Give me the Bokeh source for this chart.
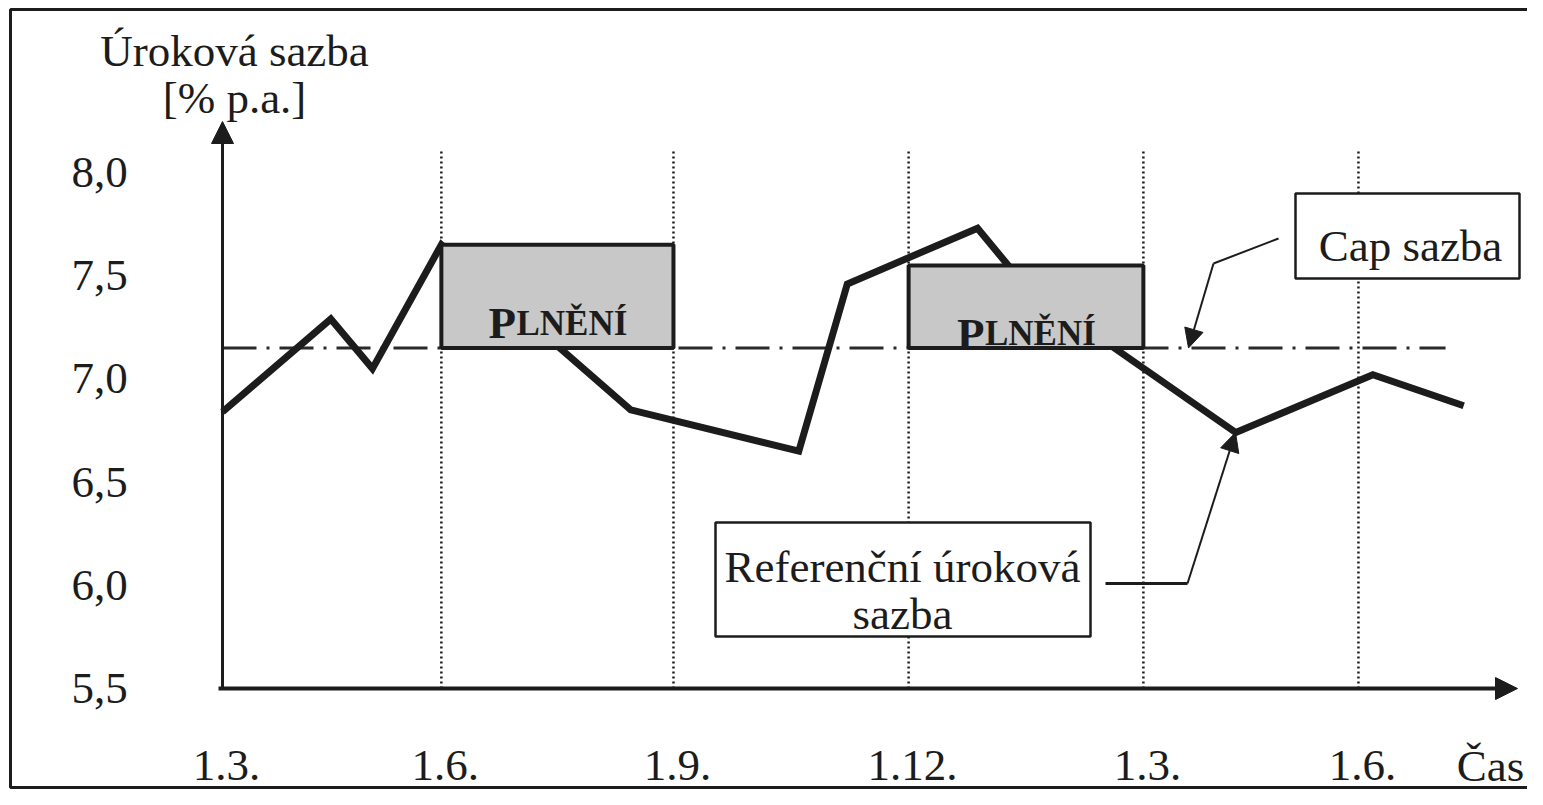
from bokeh.plotting import figure
from bokeh.models import Range1d, Arrow, NormalHead
from bokeh.core.properties import value
from bokeh.embed import file_html
from bokeh.resources import INLINE

# ---------------- data ----------------
# x in months from the first 1.3.
x_ticks = [0.0, 2.89, 5.955, 9.06, 12.16, 15.0]
x_tick_labels = ["1.3.", "1.6.", "1.9.", "1.12.", "1.3.", "1.6."]
y_ticks = [5.5, 6.0, 6.5, 7.0, 7.5, 8.0]
y_tick_labels = ["5,5", "6,0", "6,5", "7,0", "7,5", "8,0"]

ref_x = [0.0, 1.43, 1.98, 2.89, 5.39, 7.61, 8.25, 9.97, 10.6, 13.38, 15.19, 16.39]
ref_y = [6.84, 7.29, 7.05, 7.65, 6.85, 6.65, 7.46, 7.73, 7.45, 6.74, 7.02, 6.87]

cap_rate = 7.15
cap_x = [0.0, 16.15]

payout_start = [2.89, 9.06]
payout_end = [5.955, 12.16]
payout_top = [7.65, 7.55]

y_title = ["Úroková sazba", "[% p.a.]"]
x_title = "Čas"
cap_label = "Cap sazba"
ref_label = ["Referenční úroková", "sazba"]
payout_first, payout_rest = "P", "LNĚNÍ"

# ---------------- layout ----------------
W, H = 1527, 789
PXX, PXY = 75.73, 206.4          # pixels per month / per percentage point
AX_PX, AY_PX = 222, 688          # screen position of the axes origin
X0, X1 = -AX_PX / PXX, (W - AX_PX) / PXX
Y0, Y1 = 5.5 - (H - AY_PX) / PXY, 5.5 + AY_PX / PXY


def sx(px):
    return (px - AX_PX) / PXX


def sy(py):
    return 5.5 + (AY_PX - py) / PXY


FONT = value("Liberation Serif")
INK = "#1c1c1c"

p = figure(width=W, height=H, x_range=Range1d(X0, X1), y_range=Range1d(Y0, Y1),
           x_axis_location=None, y_axis_location=None, toolbar_location=None,
           output_backend="svg", min_border=0)
p.grid.visible = False
p.outline_line_color = None
p.background_fill_color = "white"
p.border_fill_color = "white"

# outer frame (right edge lies beyond the canvas)
p.line([sx(1530), sx(10), sx(10), sx(1530)], [sy(9), sy(9), sy(787), sy(787)],
       line_color=INK, line_width=3)

# vertical dotted guide lines
g = x_ticks[1:]
p.segment(x0=g, y0=[y_ticks[0]] * len(g), x1=g, y1=[sy(148)] * len(g),
          line_color=INK, line_width=2.5, line_dash="2 3")

# cap rate line
p.line(cap_x, [cap_rate, cap_rate], line_color="#2a2a2a", line_width=3,
       line_dash="34 10 3 10")

# reference rate
p.line(ref_x, ref_y, line_color=INK, line_width=7, line_join="miter")

# payout boxes
p.quad(left=payout_start, right=payout_end, bottom=[cap_rate] * 2, top=payout_top,
       fill_color="#c8c8c8", line_color=INK, line_width=4)
cx = [(a + b) / 2 for a, b in zip(payout_start, payout_end)]
by = [(cap_rate + t) / 2 - 27 / PXY for t in payout_top]
p.text(x=cx, y=by, text=[payout_first] * 2, text_font=FONT, text_font_size=value("45px"),
       text_font_style="bold", text_align="left", text_baseline="alphabetic",
       x_offset=-69, text_color=INK)
p.text(x=cx, y=by, text=[payout_rest] * 2, text_font=FONT, text_font_size=value("35px"),
       text_font_style="bold", text_align="left", text_baseline="alphabetic",
       x_offset=-41, text_color=INK)

# annotation boxes
p.quad(left=[sx(715)], right=[sx(1090)], bottom=[sy(636)], top=[sy(522)],
       fill_color="white", line_color=INK, line_width=2.5)
p.quad(left=[sx(1295)], right=[sx(1519)], bottom=[sy(278)], top=[sy(193)],
       fill_color="white", line_color=INK, line_width=2.5)

TXT = dict(text_font=FONT, text_font_size=value("45px"), text_color=INK,
           text_align="center", text_baseline="middle")
p.text(x=[sx(1410)], y=[sy(245)], text=[cap_label], **TXT)
p.text(x=[sx(902)] * 2, y=[sy(566), sy(613)], text=ref_label, **TXT)
p.text(x=[sx(234)] * 2, y=[sy(50), sy(97)], text=y_title, **TXT)

# tick labels
p.text(x=[0.0] * len(y_ticks), y=y_ticks, text=y_tick_labels, x_offset=-123, **TXT)
lab_y = sy(765)
p.text(x=x_ticks, y=[lab_y] * len(x_ticks), text=x_tick_labels, x_offset=4, **TXT)
p.text(x=[sx(1490)], y=[lab_y], text=[x_title], **TXT)

# callout arrows
p.line([sx(1278), sx(1213)], [sy(238), sy(263)], line_color=INK, line_width=2)
p.add_layout(Arrow(end=NormalHead(size=19, fill_color=INK, line_color=INK),
                   x_start=sx(1213), y_start=sy(263), x_end=sx(1188), y_end=cap_rate,
                   line_color=INK, line_width=2))
p.line([sx(1105), sx(1187)], [sy(583), sy(583)], line_color=INK, line_width=3)
p.add_layout(Arrow(end=NormalHead(size=19, fill_color=INK, line_color=INK),
                   x_start=sx(1187), y_start=sy(583), x_end=sx(1235), y_end=ref_y[9],
                   line_color=INK, line_width=2))

# axes as arrows
p.add_layout(Arrow(end=NormalHead(size=22, fill_color=INK, line_color=INK),
                   x_start=0.0, y_start=y_ticks[0], x_end=0.0, y_end=sy(121),
                   line_color=INK, line_width=3))
p.add_layout(Arrow(end=NormalHead(size=22, fill_color=INK, line_color=INK),
                   x_start=sx(218), y_start=y_ticks[0], x_end=sx(1517), y_end=y_ticks[0],
                   line_color=INK, line_width=4))

open("out.html", "w").write(file_html(p, INLINE))
